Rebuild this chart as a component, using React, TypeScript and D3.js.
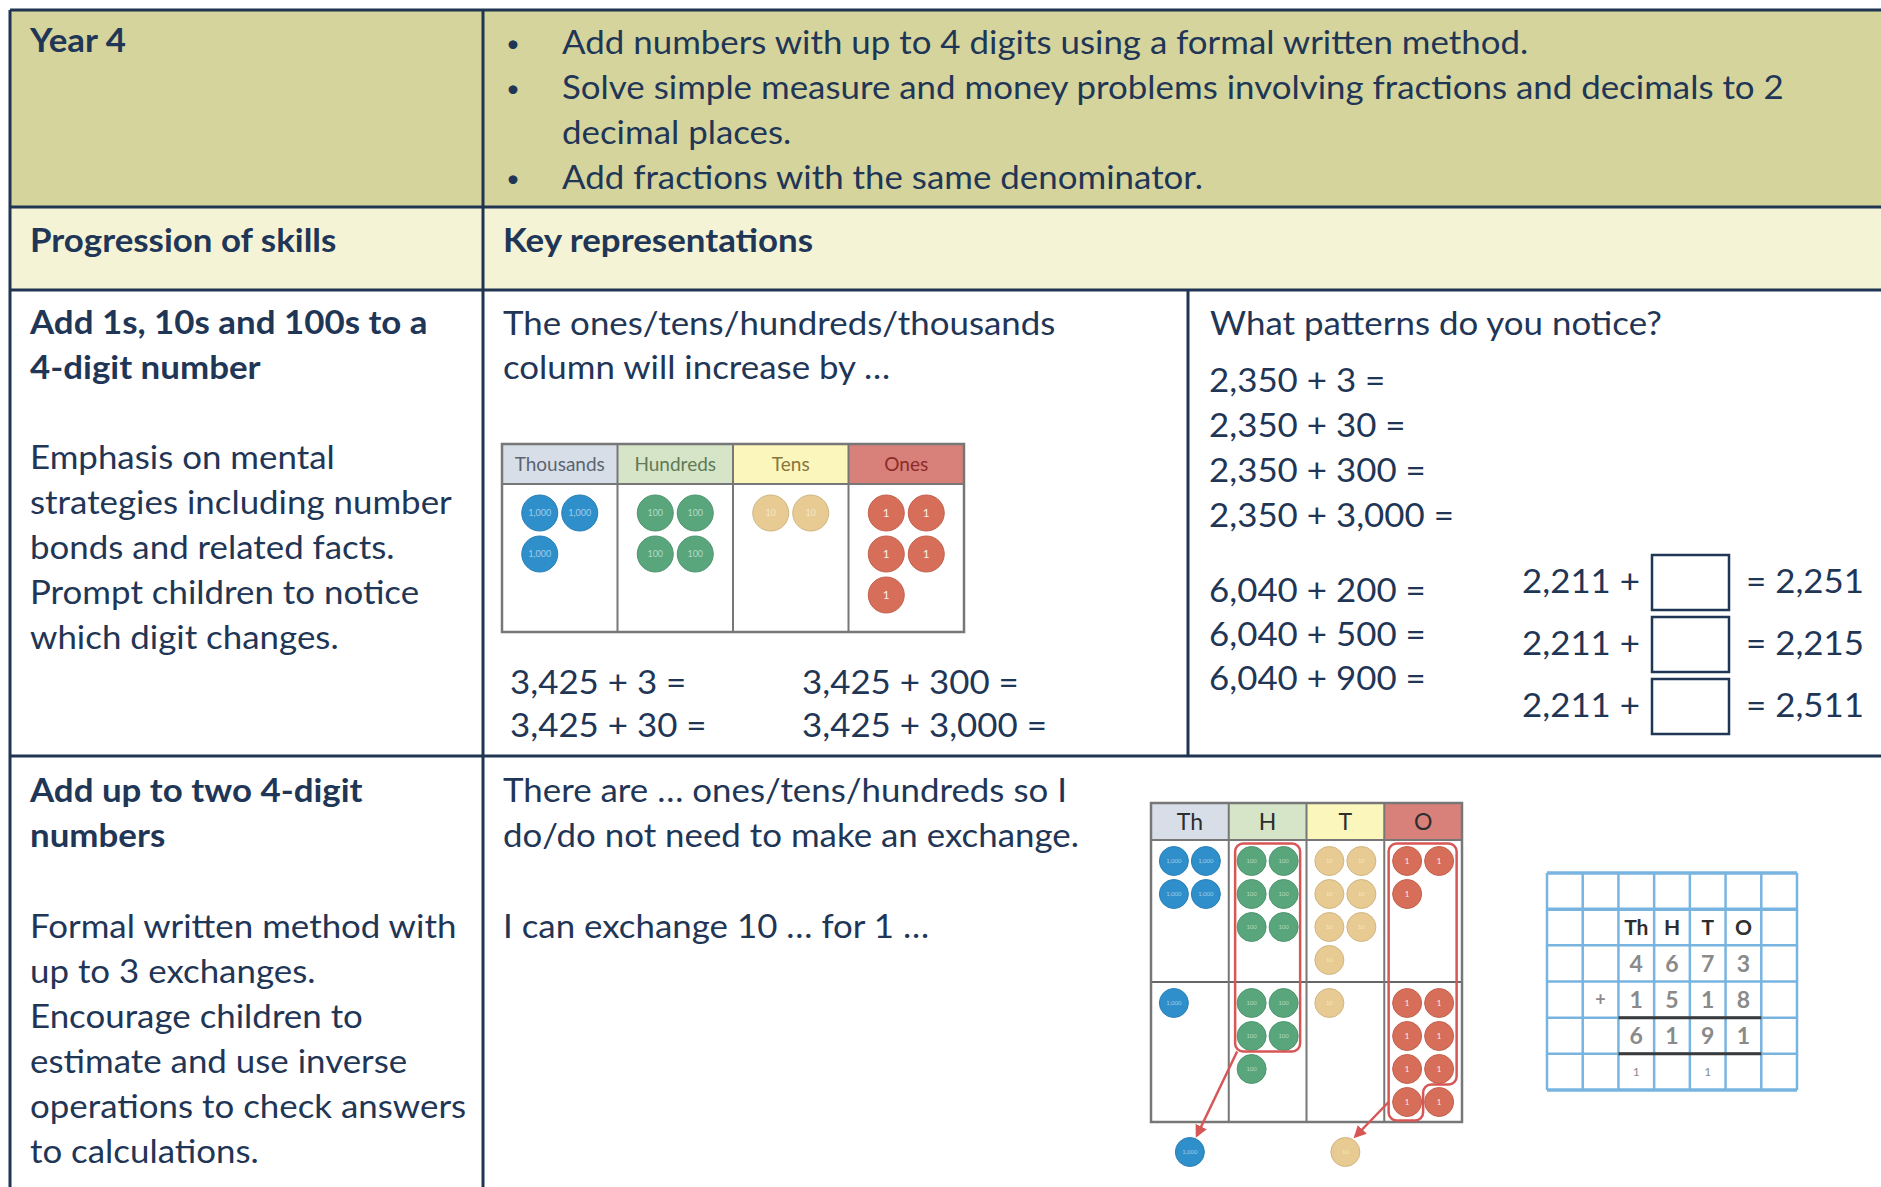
import * as React from "react";
import * as d3 from "d3";

const W = 1881;
const H = 1187;

// ---- content ----
const yearLabel = "Year 4";
const objectives = [
  ["Add numbers with up to 4 digits using a formal written method."],
  ["Solve simple measure and money problems involving fractions and decimals to 2", "decimal places."],
  ["Add fractions with the same denominator."],
];
const headings = ["Progression of skills", "Key representations"];

const skill1Title = ["Add 1s, 10s and 100s to a", "4-digit number"];
const skill1Body = [
  "Emphasis on mental",
  "strategies including number",
  "bonds and related facts.",
  "Prompt children to notice",
  "which digit changes.",
];
const rep1Prompt = ["The ones/tens/hundreds/thousands", "column will increase by …"];
const pvColumns = ["Thousands", "Hundreds", "Tens", "Ones"];
const pvShort = ["Th", "H", "T", "O"];
const counterLabels = ["1,000", "100", "10", "1"];
const pvCounts = [3, 4, 2, 5];
const sumsLeft = ["3,425 + 3 =", "3,425 + 30 ="];
const sumsRight = ["3,425 + 300 =", "3,425 + 3,000 ="];

const patternsTitle = "What patterns do you notice?";
const patternsA = ["2,350 + 3 =", "2,350 + 30 =", "2,350 + 300 =", "2,350 + 3,000 ="];
const patternsB = ["6,040 + 200 =", "6,040 + 500 =", "6,040 + 900 ="];
const missingStart = "2,211 +";
const missingTotals = ["= 2,251", "= 2,215", "= 2,511"];

const skill2Title = ["Add up to two 4-digit", "numbers"];
const skill2Body = [
  "Formal written method with",
  "up to 3 exchanges.",
  "Encourage children to",
  "estimate and use inverse",
  "operations to check answers",
  "to calculations.",
];
const rep2Prompt = ["There are … ones/tens/hundreds so I", "do/do not need to make an exchange."];
const rep2Exchange = "I can exchange 10 … for 1 …";

// 4673 + 1518 in counters and in the column method
const addendTop = [4, 6, 7, 3];
const addendBottom = [1, 5, 1, 8];
const sumDigits = [6, 1, 9, 1];
const carries = ["1", "", "1", ""];
const exchanged = [1, 0, 1, 0];

// ---- styles ----
const ink = "#1f3656";
const rule = "#1f3552";
const font = "Lato, 'Open Sans', sans-serif";
const bodySize = 32;
const stretch = 1.09; // scan is wider than Lato
const headerFills = ["#d7dee8", "#d6e4c8", "#fbf6bc", "#d8817a"];
const headerInk = ["#5a6470", "#5f7a55", "#8a7440", "#8c2b28"];
const counterFills = ["#2f8fca", "#59a67c", "#e8cb92", "#d76e59"];
const exchangeRed = "#d75656";
const gridBlue = "#78b4e0";

type LinesProps = { x: number; y: number; lines: string[]; step?: number; size?: number; bold?: boolean; fill?: string };
const Lines = ({ x, y, lines, step = 45, size = bodySize, bold = false, fill = ink }: LinesProps) => (
  <g transform={`translate(${x},${y}) scale(${stretch},1)`}>
    <text fontFamily={font} fontSize={size} fontWeight={bold ? 700 : 400} fill={fill}>
      {lines.map((l, i) => (
        <tspan key={i} x={0} y={i * step}>
          {l}
        </tspan>
      ))}
    </text>
  </g>
);

function roundedPoly(pts: [number, number][], r: number) {
  const p = d3.path();
  const n = pts.length;
  p.moveTo((pts[n - 1][0] + pts[0][0]) / 2, (pts[n - 1][1] + pts[0][1]) / 2);
  for (let i = 0; i < n; i++) {
    const a = pts[i];
    const b = pts[(i + 1) % n];
    p.arcTo(a[0], a[1], b[0], b[1], r);
  }
  p.closePath();
  return p.toString();
}

const Counter = ({ cx, cy, r, i, tag }: { cx: number; cy: number; r: number; i: number; tag: number }) => (
  <g>
    <circle cx={cx} cy={cy} r={r} fill={counterFills[i]} stroke={d3.color(counterFills[i])!.darker(0.3).toString()} strokeWidth={1} />
    <text
      x={cx}
      y={cy + tag * 0.35 * (i === 3 ? 1.3 : 1)}
      textAnchor="middle"
      fontFamily={font}
      fontSize={i === 3 ? tag * 1.3 : tag}
      fill="#fff"
      fillOpacity={i === 3 ? 0.9 : 0.55}
    >
      {counterLabels[i]}
    </text>
  </g>
);

type Section = { top: number; bottom: number; counts: number[] };
type ChartProps = {
  x: number;
  y: number;
  width: number;
  headerH: number;
  labels: string[];
  labelSize: number;
  labelInk: string[];
  sections: Section[];
  r: number;
  dx: number;
  dy: number;
  first: number;
  tagSize: number;
  children?: (col: d3.ScaleBand<string>, cy: (s: number, row: number) => number) => React.ReactNode;
};

const PlaceValueChart = ({ x, y, width, headerH, labels, labelSize, labelInk, sections, r, dx, dy, first, tagSize, children }: ChartProps) => {
  const col = d3.scaleBand<string>().domain(labels).range([x, x + width]);
  const bottom = sections[sections.length - 1].bottom;
  const cy = (s: number, row: number) => sections[s].top + first + row * dy;
  return (
    <g>
      <rect x={x} y={y} width={width} height={bottom - y} fill="#fff" />
      {labels.map((l, i) => (
        <g key={l}>
          <rect x={col(l)} y={y} width={col.bandwidth()} height={headerH} fill={headerFills[i]} />
          <text
            x={(col(l) as number) + col.bandwidth() / 2}
            y={y + headerH / 2 + labelSize * 0.35}
            textAnchor="middle"
            fontFamily={font}
            fontSize={labelSize}
            fill={labelInk[i]}
          >
            {l}
          </text>
        </g>
      ))}
      {sections.map((s, si) =>
        s.counts.map((n, ci) =>
          d3.range(n).map((k) => (
            <Counter
              key={`${si}-${ci}-${k}`}
              cx={(col(labels[ci]) as number) + col.bandwidth() / 2 + ((k % 2) - 0.5) * dx}
              cy={cy(si, Math.floor(k / 2))}
              r={r}
              i={ci}
              tag={tagSize}
            />
          ))
        )
      )}
      {sections.slice(1).map((s, i) => (
        <line key={i} x1={x} x2={x + width} y1={s.top} y2={s.top} stroke="#666" strokeWidth={2} />
      ))}
      <line x1={x} x2={x + width} y1={y + headerH} y2={y + headerH} stroke="#777" strokeWidth={2} />
      {labels.slice(1).map((l) => (
        <line key={l} x1={col(l)} x2={col(l)} y1={y} y2={bottom} stroke="#777" strokeWidth={2} />
      ))}
      <rect x={x} y={y} width={width} height={bottom - y} fill="none" stroke="#777" strokeWidth={2.5} />
      {children && children(col, cy)}
    </g>
  );
};

const ColumnMethod = ({ x, y, w, h }: { x: number; y: number; w: number; h: number }) => {
  const cx = d3.scaleBand<number>().domain(d3.range(7)).range([x, x + w]);
  const ry = d3.scaleBand<number>().domain(d3.range(6)).range([y, y + h]);
  const cw = cx.bandwidth();
  const rh = ry.bandwidth();
  const cell = (c: number, r: number, t: string, opts: { size?: number; fill?: string; weight?: number } = {}) => (
    <text
      key={`${c}-${r}-${t}`}
      x={(cx(c) as number) + cw / 2}
      y={(ry(r) as number) + rh / 2 + (opts.size ?? 23) * 0.36}
      textAnchor="middle"
      fontFamily={font}
      fontWeight={opts.weight ?? 700}
      fontSize={opts.size ?? 23}
      fill={opts.fill ?? "#8a8a8a"}
    >
      {t}
    </text>
  );
  return (
    <g>
      {d3.range(8).map((i) => {
        const xx = i < 7 ? (cx(i) as number) : x + w;
        return <line key={`v${i}`} x1={xx} x2={xx} y1={y} y2={y + h} stroke={gridBlue} strokeWidth={2.5} />;
      })}
      {d3.range(7).map((i) => {
        const yy = i < 6 ? (ry(i) as number) : y + h;
        return <line key={`h${i}`} x1={x} x2={x + w} y1={yy} y2={yy} stroke={gridBlue} strokeWidth={i === 1 || i === 0 || i === 6 ? 3.5 : 2.5} />;
      })}
      {pvShort.map((t, i) => cell(i + 2, 1, t, { fill: "#2e2e2e", size: 21 }))}
      {addendTop.map((d, i) => cell(i + 2, 2, String(d)))}
      {cell(1, 3, "+", { size: 18 })}
      {addendBottom.map((d, i) => cell(i + 2, 3, String(d)))}
      {sumDigits.map((d, i) => cell(i + 2, 4, String(d)))}
      {carries.map((d, i) => (d ? cell(i + 2, 5, d, { size: 12, weight: 400 }) : null))}
      {[4, 5].map((r) => (
        <line key={`u${r}`} x1={cx(2)} x2={(cx(5) as number) + cw} y1={ry(r)} y2={ry(r)} stroke="#3a3a3a" strokeWidth={3} />
      ))}
    </g>
  );
};

export default function App() {
  const left = 10;
  const colA = 483;
  const colB = 1188;
  const rows = [10, 207, 290, 756];
  const objectiveLines = objectives.flatMap((o) => o.map((t, i) => ({ t, bullet: i === 0 })));

  return (
    <svg width={W} height={H} style={{ position: "absolute", left: 0, top: 0, display: "block", background: "#fff" }}>
      <rect x={left} y={rows[0]} width={W - left} height={rows[1] - rows[0]} fill="#d5d49c" />
      <rect x={left} y={rows[1]} width={W - left} height={rows[2] - rows[1]} fill="#f4f3d6" />

      {/* header */}
      <Lines x={30} y={52} lines={[yearLabel]} bold />
      {objectiveLines.map((o, i) => (
        <g key={i}>
          {o.bullet && (
            <text x={506} y={52 + i * 45} fontFamily={font} fontSize={24} fill={ink}>
              •
            </text>
          )}
          <Lines x={562} y={54 + i * 45} lines={[o.t]} />
        </g>
      ))}
      <Lines x={30} y={252} lines={[headings[0]]} bold />
      <Lines x={503} y={252} lines={[headings[1]]} bold />

      {/* row 1 */}
      <Lines x={30} y={334} lines={skill1Title} bold />
      <Lines x={30} y={469} lines={skill1Body} />
      <Lines x={503} y={335} lines={rep1Prompt} step={44} />
      <PlaceValueChart
        x={502}
        y={444}
        width={462}
        headerH={40}
        labels={pvColumns}
        labelSize={19}
        labelInk={headerInk}
        sections={[{ top: 484, bottom: 632, counts: pvCounts }]}
        r={18}
        dx={40}
        dy={41}
        first={29}
        tagSize={9}
      />
      <Lines x={510} y={694} lines={sumsLeft} step={43} />
      <Lines x={802} y={694} lines={sumsRight} step={43} />

      <Lines x={1210} y={335} lines={[patternsTitle]} />
      <Lines x={1209} y={392} lines={patternsA} />
      <Lines x={1209} y={602} lines={patternsB} step={44} />
      {missingTotals.map((t, i) => (
        <g key={t}>
          <Lines x={1522} y={593 + i * 62} lines={[missingStart]} />
          <rect x={1652} y={555 + i * 62} width={77} height={55} fill="#fff" stroke={ink} strokeWidth={2.5} />
          <Lines x={1746} y={593 + i * 62} lines={[t]} />
        </g>
      ))}

      {/* row 2 */}
      <Lines x={30} y={802} lines={skill2Title} bold />
      <Lines x={30} y={938} lines={skill2Body} />
      <Lines x={503} y={802} lines={rep2Prompt} />
      <Lines x={503} y={938} lines={[rep2Exchange]} />

      <defs>
        <marker id="arrow" viewBox="0 0 10 10" refX="8" refY="5" markerWidth="5" markerHeight="5" orient="auto">
          <path d="M0,0 L10,5 L0,10 z" fill={exchangeRed} />
        </marker>
      </defs>
      <PlaceValueChart
        x={1151}
        y={803}
        width={311}
        headerH={37}
        labels={pvShort}
        labelSize={23}
        labelInk={["#2e2e2e", "#2e2e2e", "#2e2e2e", "#2e2e2e"]}
        sections={[
          { top: 840, bottom: 982, counts: addendTop },
          { top: 982, bottom: 1122, counts: addendBottom },
        ]}
        r={14.5}
        dx={32}
        dy={33}
        first={21}
        tagSize={6}
      >
        {(col, cy) => {
          const c = (i: number) => (col(pvShort[i]) as number) + col.bandwidth() / 2;
          const r = 14.5;
          const half = 16;
          const hBox = roundedPoly(
            [
              [c(1) - half - r - 2, cy(0, 0) - r - 3],
              [c(1) + half + r + 2, cy(0, 0) - r - 3],
              [c(1) + half + r + 2, cy(1, 1) + r + 1],
              [c(1) - half - r - 2, cy(1, 1) + r + 1],
            ],
            8
          );
          const oBox = roundedPoly(
            [
              [c(3) - half - r - 4, cy(0, 0) - r - 3],
              [c(3) + half + r + 3, cy(0, 0) - r - 3],
              [c(3) + half + r + 3, cy(1, 2) + r + 1],
              [c(3), cy(1, 2) + r + 1],
              [c(3), cy(1, 3) + r + 4],
              [c(3) - half - r - 4, cy(1, 3) + r + 4],
            ],
            8
          );
          const below = 1152;
          return (
            <g>
              <path d={hBox} fill="none" stroke={exchangeRed} strokeWidth={2.5} />
              <path d={oBox} fill="none" stroke={exchangeRed} strokeWidth={2.5} />
              <line x1={c(1) - half - r} y1={cy(1, 1) + r + 1} x2={c(0) + 7} y2={below - r - 2} stroke={exchangeRed} strokeWidth={2.5} markerEnd="url(#arrow)" />
              <line x1={c(3) - half - r - 4} y1={cy(1, 3)} x2={c(2) + 10} y2={below - r - 1} stroke={exchangeRed} strokeWidth={2.5} markerEnd="url(#arrow)" />
              {exchanged.map((n, i) => (n ? <Counter key={i} cx={c(i)} cy={below} r={r} i={i} tag={6} /> : null))}
            </g>
          );
        }}
      </PlaceValueChart>
      <ColumnMethod x={1547} y={873} w={250} h={217} />

      {/* table rules */}
      {rows.map((y) => (
        <line key={y} x1={left} x2={W} y1={y} y2={y} stroke={rule} strokeWidth={3} />
      ))}
      <line x1={left} x2={left} y1={rows[0]} y2={H} stroke={rule} strokeWidth={3} />
      <line x1={colA} x2={colA} y1={rows[0]} y2={H} stroke={rule} strokeWidth={3} />
      <line x1={colB} x2={colB} y1={rows[2]} y2={rows[3]} stroke={rule} strokeWidth={3} />
    </svg>
  );
}
